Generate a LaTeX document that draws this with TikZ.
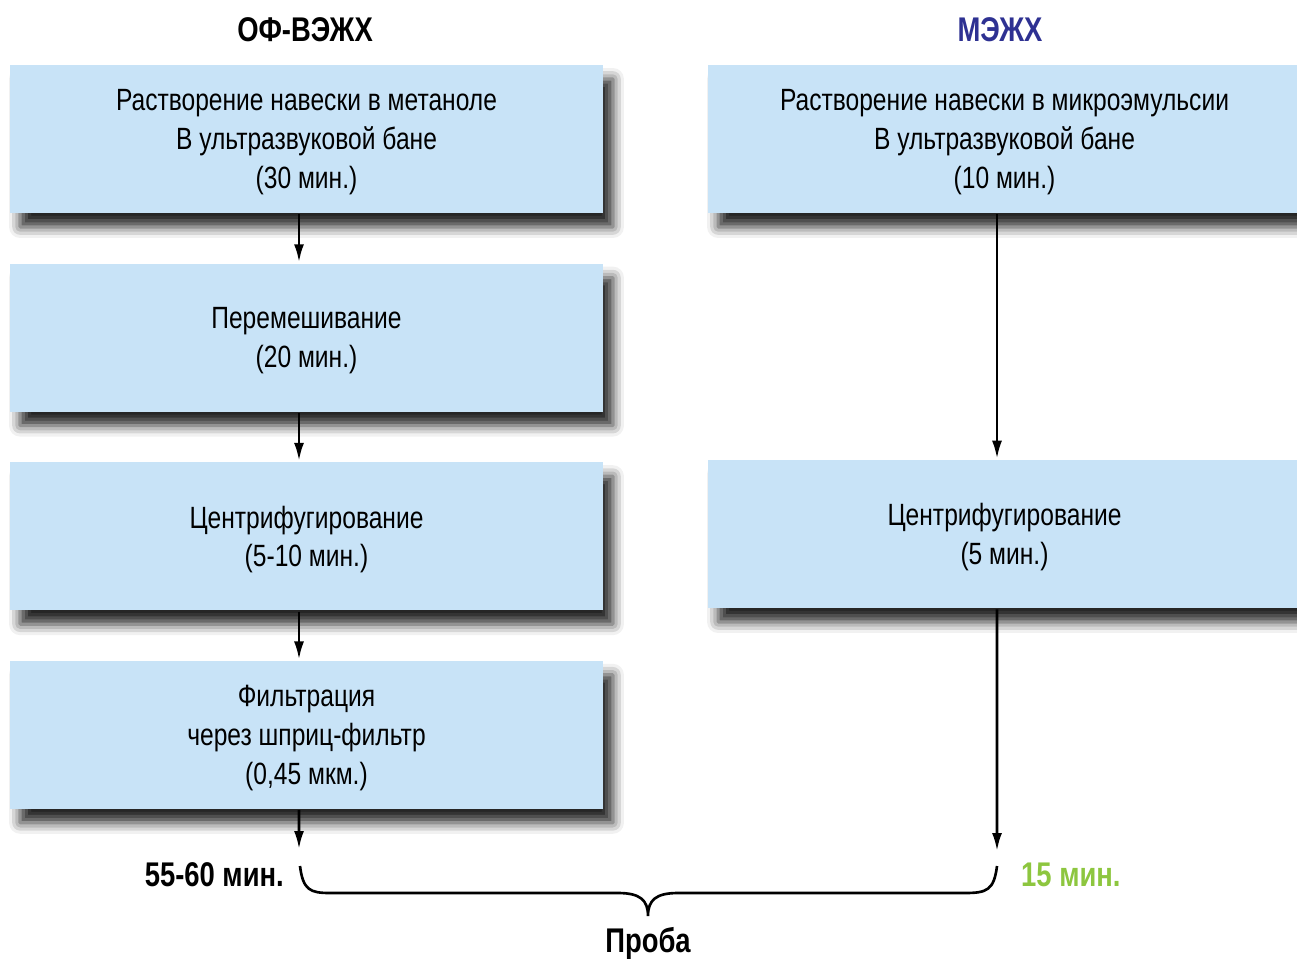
\documentclass[tikz,border=0pt]{standalone}
\usepackage{fontspec}
\setmainfont{Liberation Sans}[FakeStretch=0.8]
\usetikzlibrary{arrows.meta, positioning, shadows.blur}
\definecolor{boxblue}{RGB}{200,227,247}
\definecolor{headblue}{RGB}{46,49,146}
\definecolor{timegreen}{RGB}{141,198,63}
\tikzset{
  stepbox/.style={fill=boxblue, minimum width=11.86cm, minimum height=2.96cm,
    inner sep=0pt, align=center, font=\fontsize{17.5}{22}\selectfont, text depth=0pt,
    blur shadow={shadow xshift=0.2cm, shadow yshift=-0.28cm,
      shadow blur radius=0.22cm, shadow opacity=85}},
  headlabel/.style={font=\bfseries\fontsize{19.5}{22}\selectfont},
}

\begin{document}
\begin{tikzpicture}[x=0.02cm, y=-0.02cm, line width=1.5pt,
  >={Latex[length=0.36cm, width=0.2cm]}]
  \clip (0,0) rectangle (1297,959);
  % headers
  \node[headlabel] (hleft) at (305,30) {ОФ-ВЭЖХ};
  \node[headlabel, text=headblue] (hright) at (1000,30) {МЭЖХ};
  % left column
  \node[stepbox] (l1) at (306.5,139) {Растворение навески в метаноле\\В ультразвуковой бане\\(30 мин.)};
  \node[stepbox, below=0.96cm of l1] (l2) {Перемешивание\\(20 мин.)};
  \node[stepbox, below=0.96cm of l2] (l3) {Центрифугирование\\(5-10 мин.)};
  \node[stepbox, below=0.96cm of l3] (l4) {Фильтрация\\через шприц-фильтр\\(0,45 мкм.)};
  % right column
  \node[stepbox] (r1) at (1004.5,139) {Растворение навески в микроэмульсии\\В ультразвуковой бане\\(10 мин.)};
  \node[stepbox] (r2) at (1004.5,534) {Центрифугирование\\(5 мин.)};
  % arrows
  \draw[->] ([xshift=-1.5mm]l1.south) -- ([xshift=-1.5mm]l2.north);
  \draw[->] ([xshift=-1.5mm]l2.south) -- ([xshift=-1.5mm]l3.north);
  \draw[->] ([xshift=-1.5mm]l3.south) -- ([xshift=-1.5mm]l4.north);
  \draw[->] ([xshift=-1.5mm]r1.south) -- ([xshift=-1.5mm]r2.north);
  \coordinate (lend) at (299,849);
  \coordinate (rend) at (997,851);
  \draw[->] ([xshift=-1.5mm]l4.south) -- (lend);
  \draw[->] ([xshift=-1.5mm]r2.south) -- (rend);
  % brace
  \draw (300,866) .. controls (303,890) and (310,893) .. (330,893) -- (618,893)
    .. controls (640,893) and (648,900) .. (648,916)
    .. controls (648,900) and (656,893) .. (678,893) -- (965,893)
    .. controls (987,893) and (994,890) .. (997,866);
  % times
  \node[headlabel, anchor=east] (tleft) at (291,875) {55-60 мин.};
  \node[headlabel, anchor=west, text=timegreen] (tright) at (1014,875) {15 мин.};
  \node[headlabel] (probe) at (648,943) {Проба};
\end{tikzpicture}
\end{document}
